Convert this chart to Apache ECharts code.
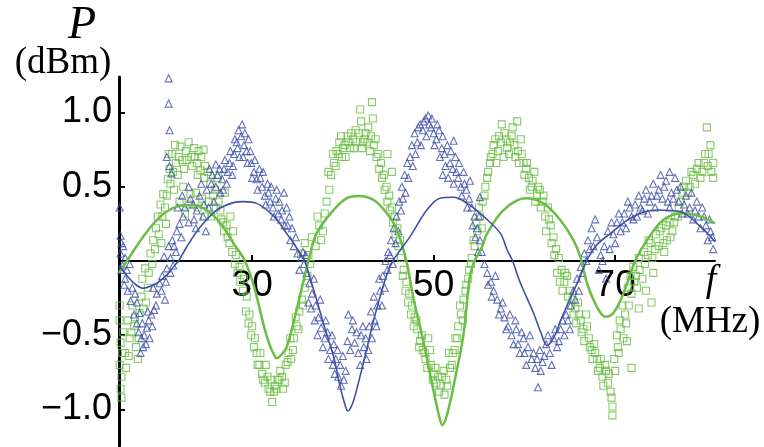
<!DOCTYPE html>
<html>
<head>
<meta charset="utf-8">
<script src="https://cdn.jsdelivr.net/npm/echarts@6/dist/echarts.min.js"></script>
<style>html,body{margin:0;padding:0;background:#fff}#c{width:764px;height:447px}</style>
</head>
<body>
<div id="c"></div>
<script>
var xTicks = [30, 50, 70];
var yTicks = [-1.0, -0.5, 0.5, 1.0];

var triangles = [
[15.4,0.36],[15.5,0.17],[15.6,0.12],[15.5,0.05],[15.8,0.10],[16.0,0.02],[15.7,-0.03],[16.2,-0.06],[16.5,-0.02],[16.0,-0.12],
[16.8,-0.18],[17.1,-0.22],[17.3,-0.28],[16.6,-0.27],[17.6,-0.35],[17.9,-0.42],[17.5,-0.48],[18.1,-0.50],[18.4,-0.45],[18.0,-0.58],
[17.7,-0.62],[18.6,-0.40],[18.9,-0.36],[19.2,-0.33],[18.7,-0.52],[19.5,-0.22],[19.8,-0.15],[20.1,-0.10],[20.4,-0.26],[20.6,-0.05],
[21.0,0.02],[21.3,-0.03],[21.6,0.06],[20.3,0.03],[20.8,0.10],[21.2,0.14],[21.7,0.20],[22.0,0.25],
[20.8,1.23],[20.8,1.06],[20.9,0.88],[20.6,0.70],[20.9,0.64],[21.1,0.59],
[22.4,0.30],[23.0,0.26],[23.5,0.38],[23.8,0.22],[24.2,0.44],[24.6,0.30],[25.0,0.48],[24.9,0.20],
[25.5,0.52],[25.8,0.40],[26.2,0.58],[26.5,0.46],[26.9,0.62],[27.2,0.52],[27.5,0.66],[27.8,0.58],[28.0,0.72],[28.3,0.80],
[28.5,0.88],[28.8,0.84],[29.1,0.78],[29.4,0.74],[29.6,0.82],[29.0,0.70],[25.3,0.62],[26.0,0.65],[26.8,0.48],
[29.9,0.66],[30.2,0.60],[30.5,0.55],[30.8,0.62],[31.1,0.50],[31.4,0.44],[31.7,0.52],[32.0,0.40],[32.3,0.36],[32.6,0.42],
[32.9,0.32],[33.2,0.28],[33.5,0.46],[33.8,0.36],[34.1,0.30],[34.4,0.22],[33.6,0.24],[34.6,0.10],[35.0,0.05],[35.4,0.02],[35.7,-0.02],
[35.6,0.06],[36.0,-0.08],[36.3,-0.15],[36.6,-0.22],[37.0,-0.30],[37.3,-0.38],[37.6,-0.45],[36.9,-0.40],[38.0,-0.52],[38.3,-0.48],
[38.6,-0.60],[38.9,-0.70],[39.2,-0.66],[39.5,-0.78],[39.8,-0.84],[40.1,-0.80],[39.0,-0.56],
[40.6,-0.36],[41.0,-0.46],[41.3,-0.55],[40.8,-0.60],[41.7,-0.62],[42.0,-0.50],[42.3,-0.58],[42.6,-0.66],[42.9,-0.44],
[43.2,-0.52],[43.5,-0.40],[43.8,-0.30],[44.1,-0.20],[44.4,-0.10],[44.7,0.00],[45.0,0.06],[45.3,0.14],[45.6,0.22],[45.9,0.30],
[46.2,0.40],[46.5,0.50],[46.8,0.58],[47.1,0.66],[46.4,0.34],
[47.6,0.78],[47.9,0.86],[48.2,0.80],[48.5,0.92],[48.8,0.88],[49.1,0.96],[49.4,0.98],[49.7,0.90],[50.0,0.86],[50.3,0.82],
[50.6,0.88],[50.9,0.76],[51.2,0.72],[51.5,0.78],[51.8,0.66],[52.1,0.62],[52.4,0.70],[52.2,0.81],[51.0,0.58],[52.7,0.56],
[53.0,0.50],[53.3,0.60],[53.6,0.48],[53.9,0.42],[54.2,0.36],[54.5,0.30],[54.8,0.22],[55.1,0.43],[55.0,0.30],[55.1,0.14],[55.3,0.06],[55.6,-0.02],
[55.9,-0.08],[56.3,-0.14],[56.6,-0.20],[57.0,-0.26],[57.4,-0.32],[57.8,-0.38],[58.2,-0.44],[58.6,-0.50],[59.0,-0.40],[59.3,-0.56],
[59.7,-0.48],[60.0,-0.62],[60.4,-0.58],[60.8,-0.66],[61.2,-0.72],[61.5,-0.85],[61.7,-0.60],[62.0,-0.68],[62.4,-0.56],[62.8,-0.62],
[63.2,-0.52],[63.6,-0.58],[64.0,-0.46],[64.4,-0.50],[64.8,-0.40],[65.1,-0.30],[65.4,-0.20],[65.8,-0.12],[66.2,-0.04],[66.6,0.05],
[67.0,0.14],[67.4,0.22],[67.8,0.28],[68.2,-0.06],[68.6,0.00],[69.0,-0.12],[69.4,0.08],[69.8,0.18],[70.2,0.26],[70.6,0.20],
[71.0,0.32],[71.4,0.40],[71.8,0.30],[72.2,0.38],[72.6,0.44],[73.0,0.34],[73.4,0.48],[73.8,0.40],[74.2,0.52],[74.6,0.44],
[75.0,0.58],[76.0,0.60],[75.4,0.50],[75.8,0.40],[76.2,0.46],[76.6,0.56],[77.0,0.40],[77.4,0.32],[77.8,0.44],[78.2,0.36],
[78.6,0.28],[79.0,0.40],[79.4,0.22],[79.8,0.30],[80.2,0.14],[80.5,0.20],[80.8,0.08]
];

var trianglesMore = [
[22.6,0.36],[23.2,0.42],[23.9,0.34],[24.4,0.52],[24.7,0.38],[25.2,0.36],[25.6,0.58],[26.0,0.50],[26.4,0.62],[26.7,0.55],
[27.0,0.68],[27.3,0.60],[27.6,0.74],[27.9,0.64],[28.1,0.82],[28.4,0.76],[28.6,0.70],[28.9,0.92],[29.2,0.86],[29.5,0.66],
[29.8,0.74],[30.0,0.56],[30.3,0.68],[30.6,0.48],[30.9,0.56],[31.2,0.60],[31.5,0.38],[31.8,0.46],[32.1,0.50],[32.4,0.30],
[32.7,0.48],[33.0,0.40],[33.3,0.34],[33.9,0.24],[34.2,0.14],[34.8,0.16],[35.2,-0.06],[35.9,0.04],
[36.2,-0.28],[36.5,-0.32],[36.8,-0.12],[37.2,-0.50],[37.5,-0.26],[37.8,-0.58],[38.1,-0.40],[38.4,-0.66],[38.8,-0.50],[39.1,-0.76],
[39.4,-0.60],[39.7,-0.70],[40.0,-0.64],[40.3,-0.74],[40.5,-0.54],[41.1,-0.40],[41.5,-0.48],[41.9,-0.70],[42.2,-0.44],[42.5,-0.52],
[42.8,-0.60],[43.1,-0.34],[43.4,-0.24],[43.7,-0.44],[44.0,-0.12],[44.3,-0.30],[44.6,-0.18],[44.9,-0.06],[45.2,0.04],[45.5,-0.02],
[45.8,0.12],[46.1,0.20],[46.6,0.42],[46.9,0.46],[47.2,0.56],[47.4,0.70],[47.7,0.64],[48.0,0.72],[48.3,0.90],[48.6,0.78],
[48.9,0.94],[49.2,0.84],[49.5,0.92],[49.8,0.96],[50.1,0.78],[50.4,0.92],[50.7,0.70],[51.0,0.84],[51.3,0.64],[51.6,0.56],
[51.9,0.74],[52.2,0.52],[52.5,0.60],[52.8,0.66],[53.1,0.44],[53.4,0.52],[53.7,0.36],[54.0,0.54],[54.3,0.24],[54.6,0.16],[54.9,0.06],
[56.0,-0.16],[56.4,-0.24],[56.8,-0.10],[57.2,-0.36],[57.6,-0.28],[58.0,-0.46],[58.4,-0.36],[58.8,-0.56],[59.1,-0.46],[59.5,-0.62],
[59.9,-0.52],[60.2,-0.70],[60.6,-0.50],[61.0,-0.62],[61.4,-0.66],[61.8,-0.74],[62.2,-0.64],[62.6,-0.50],[63.0,-0.70],[63.4,-0.46],
[63.8,-0.54],[64.2,-0.40],[64.6,-0.36],[65.0,-0.46],[65.6,-0.26],[66.0,-0.20],[66.4,-0.08],[66.8,0.00],[67.2,0.08],[67.6,0.10],
[68.0,0.16],[68.4,0.04],[68.8,0.10],[69.2,0.20],[69.6,0.26],[70.0,0.12],[70.4,0.32],[70.8,0.26],[71.2,0.22],[71.6,0.36],
[72.0,0.28],[72.4,0.30],[72.8,0.36],[73.2,0.42],[73.6,0.32],[74.0,0.44],[74.4,0.36],[74.8,0.48],[75.2,0.42],[75.6,0.54],
[76.0,0.36],[76.4,0.42],[76.8,0.48],[77.2,0.50],[77.6,0.38],[78.0,0.32],[78.4,0.46],[78.8,0.34],[79.2,0.30],[79.6,0.36],
[80.0,0.24],[80.4,0.28],[80.7,0.16],
[15.6,-0.06],[15.9,-0.16],[16.3,-0.20],[17.0,-0.36],[17.3,-0.42],[17.8,-0.52],[18.3,-0.56],[18.5,-0.34],[19.0,-0.44],[19.4,-0.30],
[19.1,-0.18],[20.0,-0.20],[20.5,-0.14],[21.0,-0.08],[21.4,0.10],[22.2,0.16],[21.8,0.36],[22.3,0.44],[23.0,0.50],[23.6,0.28]
];

var squares = [
[15.4,-0.40],[15.5,-0.55],[15.4,-0.70],[15.5,-0.86],[15.6,-0.92],[15.8,-0.48],[16.0,-0.62],[16.3,-0.40],[16.5,-0.52],[16.8,-0.30],
[17.0,-0.44],[17.2,-0.58],[17.4,-0.66],[17.6,-0.35],[17.8,-0.24],[17.9,-0.12],[18.2,-0.05],[18.5,-0.18],[18.8,0.05],[19.1,0.14],
[19.4,0.22],[19.6,0.30],[19.9,0.38],[20.2,0.45],[20.0,0.12],[20.5,0.25],[20.7,0.55],[20.9,0.62],[21.2,0.72],[21.4,0.48],
[21.6,0.66],[21.9,0.70],[22.1,0.77],[22.5,0.62],[22.8,0.68],[23.0,0.80],[23.4,0.64],[23.7,0.70],[24.1,0.74],[24.0,0.58],
[24.3,0.61],[24.65,0.75],[24.8,0.64],[22.0,0.40],[22.6,0.32],[23.2,0.45],[24.0,0.36],[24.8,0.30],
[25.4,0.52],[25.7,0.44],[26.0,0.36],[26.3,0.40],[26.6,0.28],[26.9,0.20],[27.2,0.24],[27.5,0.12],[27.8,0.06],[28.1,-0.02],
[26.2,0.56],[27.0,0.46],[27.6,0.30],
[28.4,-0.08],[28.7,-0.14],[29.0,-0.20],[29.3,-0.34],[29.6,-0.42],[29.9,-0.50],[30.2,-0.58],[30.5,-0.62],[30.8,-0.70],[31.1,-0.76],
[31.4,-0.82],[31.7,-0.78],[32.0,-0.88],[32.2,-0.95],[32.5,-0.84],[32.8,-0.80],[33.1,-0.74],[33.4,-0.86],[33.7,-0.70],[34.0,-0.62],
[34.3,-0.66],[34.6,-0.52],[34.9,-0.44],[35.2,-0.34],[35.5,-0.26],[35.8,-0.18],[36.1,-0.10],[36.4,-0.02],
[35.4,0.05],[35.8,0.12],[36.2,0.04],[36.6,0.16],[37.0,0.10],[37.4,0.24],[37.8,0.20],[38.2,0.40],[38.5,0.48],[38.7,0.58],
[39.0,0.66],[39.3,0.74],[39.6,0.80],[39.9,0.70],[40.2,0.78],[40.5,0.84],[40.8,0.76],[41.1,0.82],[41.4,0.88],[41.9,1.02],
[42.0,0.94],[42.2,0.80],[42.5,0.86],[42.8,0.90],[43.2,1.07],[43.3,0.96],[43.1,0.84],[43.4,0.78],[43.7,0.70],[44.0,0.62],
[44.3,0.56],[44.6,0.48],[44.9,0.72],[45.4,0.60],[44.9,0.40],[45.2,0.34],[45.5,0.26],[45.8,0.18],[46.1,0.10],[46.4,0.02],
[46.7,-0.06],[47.0,-0.14],[47.3,-0.22],[47.6,-0.30],[47.9,-0.38],[48.2,-0.46],[48.5,-0.54],[48.8,-0.60],[49.1,-0.66],[49.4,-0.52],
[49.7,-0.70],[50.0,-0.76],[50.3,-0.82],[50.6,-0.88],[50.9,-0.78],[51.2,-0.90],[51.5,-0.84],[51.8,-0.72],[52.1,-0.62],[52.4,-0.52],
[52.7,-0.44],[53.0,-0.36],[53.3,-0.26],[53.6,-0.16],[53.9,-0.06],[54.2,0.02],[54.5,0.10],[54.8,0.20],[55.1,0.30],[55.4,0.40],
[55.7,0.50],[56.0,0.60],[56.3,0.70],[56.6,0.78],[56.9,0.66],[57.2,0.84],[57.5,0.92],[57.8,0.86],[58.1,0.76],[58.4,0.80],
[58.7,0.90],[59.2,0.94],[59.0,0.70],[59.3,0.74],[59.6,0.82],[59.9,0.66],[60.2,0.62],[60.5,0.56],[60.8,0.50],[61.1,0.60],
[61.4,0.44],[61.7,0.48],[62.0,0.40],[62.3,0.30],[62.6,0.36],[62.9,0.24],[63.2,0.16],[63.5,0.08],[63.8,0.02],[64.1,-0.06],
[64.4,-0.14],[64.7,-0.10],[65.0,-0.20],[65.3,-0.26],[65.6,-0.32],[65.9,-0.28],[66.2,-0.40],[66.5,-0.46],[66.8,-0.36],[67.1,-0.52],
[67.4,-0.60],[67.7,-0.56],[68.0,-0.66],[68.3,-0.72],[68.6,-0.78],[68.9,-0.70],[69.2,-0.82],[69.5,-0.88],[69.7,-0.98],[69.7,-1.04],
[70.0,-0.74],[70.3,-0.58],[70.4,-0.62],[70.6,-0.46],[70.9,-0.52],[71.2,-0.42],[71.3,-0.54],[71.8,-0.72],[71.5,-0.30],[71.8,-0.22],
[72.1,-0.14],[72.4,-0.18],[72.6,-0.32],[72.7,-0.06],[73.0,-0.12],[73.4,-0.20],[73.3,-0.02],[73.6,0.04],[74.0,-0.28],[73.9,0.12],
[74.2,-0.08],[74.5,0.18],[74.8,0.10],[75.1,0.22],[75.4,0.06],[75.7,0.14],[76.0,0.26],[76.3,0.20],[76.6,0.30],[77.0,0.36],
[77.4,0.46],[77.8,0.54],[78.2,0.50],[78.6,0.58],[79.0,0.62],[79.4,0.56],[79.8,0.66],[80.1,0.90],[80.3,0.72],[80.6,0.60],[80.8,0.66]
];

var squaresMore = [
[15.4,-0.30],[15.6,-0.78],[15.7,-0.62],[16.1,-0.72],[16.4,-0.64],[16.7,-0.48],[17.1,-0.38],[17.5,-0.52],[18.0,-0.32],[18.3,-0.28],
[18.6,-0.08],[19.0,-0.02],[19.3,0.08],[19.7,0.18],[20.1,0.30],[20.4,0.36],[20.6,0.44],[20.8,0.72],[21.0,0.52],[21.3,0.60],
[21.5,0.78],[21.8,0.58],[22.3,0.68],[22.7,0.74],[23.3,0.70],[23.6,0.76],[23.9,0.66],[24.4,0.70],[24.7,0.56],[25.1,0.60],
[22.4,0.50],[23.0,0.38],[23.8,0.46],[24.5,0.42],[25.2,0.40],[25.5,0.30],[25.9,0.48],[26.5,0.34],[26.8,0.26],[27.3,0.16],[27.9,0.20],
[28.2,0.04],[28.6,-0.04],[29.1,-0.12],[29.4,-0.24],[29.7,-0.36],[30.0,-0.44],[30.3,-0.52],[30.6,-0.70],[30.9,-0.62],[31.2,-0.80],
[31.5,-0.70],[31.8,-0.86],[32.1,-0.80],[32.4,-0.88],[32.7,-0.86],[33.0,-0.80],[33.3,-0.78],[33.6,-0.82],[33.9,-0.68],[34.2,-0.52],
[34.5,-0.60],[34.8,-0.38],[35.1,-0.46],[35.6,-0.30],
[37.2,0.30],[37.6,0.14],[38.0,0.32],[38.4,0.60],[38.9,0.72],[39.2,0.64],[39.5,0.72],[39.8,0.84],[40.0,0.76],[40.3,0.70],
[40.6,0.80],[40.9,0.86],[41.2,0.76],[41.5,0.80],[41.8,0.86],[42.1,0.76],[42.4,0.82],[42.7,0.80],[43.0,0.74],[43.6,0.82],
[43.9,0.72],[44.2,0.66],[44.5,0.58],[44.8,0.50],[45.1,0.44],[45.4,0.36],[45.7,0.30],[46.0,0.22],[46.3,0.14],
[46.6,-0.10],[46.9,-0.20],[47.2,-0.28],[47.5,-0.36],[47.8,-0.44],[48.1,-0.40],[48.4,-0.58],[48.7,-0.50],[49.0,-0.62],[49.3,-0.72],
[49.6,-0.60],[49.9,-0.80],[50.2,-0.72],[50.5,-0.78],[50.8,-0.84],[51.1,-0.74],[51.4,-0.80],[51.7,-0.62],[52.0,-0.70],[52.3,-0.60],
[52.6,-0.52],[52.9,-0.30],[53.2,-0.40],[53.5,-0.20],[53.8,-0.12],[54.1,-0.02],
[54.4,0.14],[54.7,0.26],[55.0,0.36],[55.3,0.22],[55.6,0.44],[55.9,0.56],[56.2,0.66],[56.5,0.72],[56.8,0.82],[57.1,0.74],
[57.4,0.80],[57.7,0.70],[58.0,0.82],[58.3,0.72],[58.6,0.84],[58.9,0.78],[59.4,0.66],[59.7,0.72],[60.0,0.58],[60.3,0.66],
[60.6,0.48],[60.9,0.54],[61.2,0.40],[61.5,0.50],[61.8,0.36],[62.1,0.44],[62.4,0.20],[62.7,0.28],[63.0,0.12],[63.3,0.04],
[63.6,-0.08],[63.9,-0.14],[64.2,-0.20],[64.5,-0.08],[64.8,-0.24],[65.1,-0.30],[65.4,-0.36],[65.7,-0.42],[66.0,-0.36],[66.3,-0.48],
[66.6,-0.54],[66.9,-0.44],[67.2,-0.58],[67.5,-0.66],[67.8,-0.62],[68.1,-0.74],[68.4,-0.66],[68.7,-0.84],[69.0,-0.74],[69.3,-0.76],
[69.6,-0.92],[69.9,-0.66],[70.2,-0.50],[70.5,-0.40],[70.8,-0.30],[71.1,-0.36],[71.4,-0.18],[71.7,-0.10],[72.0,-0.04],[72.3,-0.10],[72.6,0.02],
[73.2,0.06],[73.7,0.14],[74.1,0.02],[74.4,0.08],[74.9,0.20],[75.3,0.12],[75.6,0.24],[76.1,0.16],[76.5,0.26],[76.9,0.30],
[77.2,0.40],[77.6,0.50],[78.0,0.46],[78.4,0.60],[78.8,0.52],[79.2,0.66],[79.6,0.60],[79.9,0.72],[80.2,0.64],[80.5,0.78],[80.8,0.56]
];

var blueFit = [
[15.33,-0.03],[16.5,-0.12],[17.3,-0.165],[18.0,-0.184],[18.8,-0.17],[19.5,-0.15],[20.6,-0.094],[21.5,-0.027],[21.9,0],[22.8,0.096],
[24.3,0.23],[26.1,0.343],[27.95,0.393],[29.06,0.40],[30.5,0.388],[32.4,0.30],[33.8,0.186],[35.0,0.08],[35.8,0],[36.3,-0.10],
[37.1,-0.26],[38.0,-0.45],[39.0,-0.65],[39.6,-0.82],[40.1,-0.94],[40.55,-1.01],[41.0,-0.97],[41.5,-0.87],[42.0,-0.75],[42.6,-0.60],
[43.3,-0.42],[44.1,-0.24],[44.8,-0.10],[45.5,0],[47.4,0.164],[49.25,0.343],[50.7,0.422],[52.2,0.429],[53.7,0.388],[55.5,0.30],
[57.35,0.186],[58.1,0.074],[58.7,0],[59.5,-0.14],[61.0,-0.35],[61.8,-0.48],[62.5,-0.57],[63.2,-0.52],[64.0,-0.40],[64.7,-0.30],
[66.1,-0.11],[67.0,0.02],[68.0,0.11],[69.5,0.186],[72.0,0.30],[74.6,0.343],[77.2,0.332],[79.4,0.231],[81.0,0.13]
];

var greenFit = [
[15.33,-0.08],[16.2,0],[18.0,0.164],[19.9,0.30],[21.7,0.366],[23.36,0.377],[25.0,0.343],[26.5,0.254],[27.95,0.119],[29.2,0],
[30.2,-0.17],[31.3,-0.44],[31.9,-0.56],[32.4,-0.63],[32.7,-0.655],[33.1,-0.64],[33.8,-0.58],[34.9,-0.33],[35.6,-0.15],[36.2,0],
[37.1,0.186],[38.97,0.343],[40.4,0.422],[41.7,0.438],[43.4,0.411],[44.85,0.321],[45.95,0.209],[47.0,0.0],[47.8,-0.26],[48.9,-0.55],
[49.8,-0.82],[50.55,-1.03],[50.95,-1.105],[51.5,-1.03],[52.4,-0.78],[53.3,-0.49],[54.0,-0.10],[54.5,0],[55.3,0.09],[55.9,0.186],
[57.7,0.343],[60.1,0.422],[62.1,0.388],[63.95,0.276],[65.4,0.14],[66.2,0.02],[66.9,-0.15],[68.0,-0.31],[68.9,-0.375],[69.8,-0.35],
[70.9,-0.22],[72.2,0],[73.5,0.14],[75.3,0.276],[77.4,0.321],[79.4,0.30],[81.0,0.254]
];

var BLUE = '#3e4fa8';
var GREEN = '#6bbd45';

var chart = echarts.init(document.getElementById('c'), null, {renderer: 'canvas'});
function fmt(v){ var s = Math.abs(v).toFixed(1); return v < 0 ? '\u2212' + s : s; }

chart.setOption({
  animation: false,
  backgroundColor: '#ffffff',
  grid: {left: 119, top: 77, width: 596, height: 369, outerBoundsMode: 'none'},
  xAxis: {
    type: 'value', min: 15.33, max: 81.0, position: 'bottom', offset: -185,
    axisLine: {show: true, onZero: false, lineStyle: {color: '#000', width: 2}},
    axisTick: {show: true, inside: true, length: 6, customValues: xTicks, lineStyle: {color: '#000', width: 2}},
    axisLabel: {show: true, customValues: xTicks, margin: 6, fontSize: 37, color: '#000', fontFamily: 'Liberation Sans', formatter: function(v){return String(v);}},
    splitLine: {show: false}
  },
  yAxis: {
    type: 'value', min: -1.246, max: 1.239,
    axisLine: {show: true, onZero: false, lineStyle: {color: '#000', width: 3}},
    axisTick: {show: true, inside: true, length: 6, customValues: yTicks, lineStyle: {color: '#000', width: 2}},
    axisLabel: {show: true, customValues: yTicks, margin: 7, fontSize: 36, color: '#000', fontFamily: 'Liberation Sans', formatter: fmt},
    splitLine: {show: false}
  },
  graphic: [
    {type: 'text', style: {text: 'P', x: 82, y: 26, font: 'italic 46px "Liberation Serif"', fill: '#000', align: 'center', verticalAlign: 'middle'}},
    {type: 'text', style: {text: '(dBm)', x: 63, y: 63, font: '37px "Liberation Serif"', fill: '#000', align: 'center', verticalAlign: 'middle'}},
    {type: 'text', style: {text: 'f', x: 711, y: 281, font: 'italic 38px "Liberation Serif"', fill: '#000', align: 'center', verticalAlign: 'middle'}},
    {type: 'text', style: {text: '(MHz)', x: 710, y: 322, font: '37px "Liberation Serif"', fill: '#000', align: 'center', verticalAlign: 'middle'}}
  ],
  series: [
    {type: 'scatter', data: squares.concat(squaresMore), symbol: 'rect', symbolSize: 7, itemStyle: {color: 'rgba(0,0,0,0)', borderColor: GREEN, borderWidth: 1.1}, z: 2},
    {type: 'scatter', data: triangles.concat(trianglesMore), symbol: 'triangle', symbolSize: [7, 7], itemStyle: {color: 'rgba(0,0,0,0)', borderColor: BLUE, borderWidth: 1.1}, z: 3},
    {type: 'line', data: greenFit, showSymbol: false, smooth: 0.35, lineStyle: {color: GREEN, width: 2.5}, z: 4},
    {type: 'line', data: blueFit, showSymbol: false, smooth: 0.35, lineStyle: {color: BLUE, width: 1.6}, z: 5}
  ]
});
</script>
</body>
</html>
